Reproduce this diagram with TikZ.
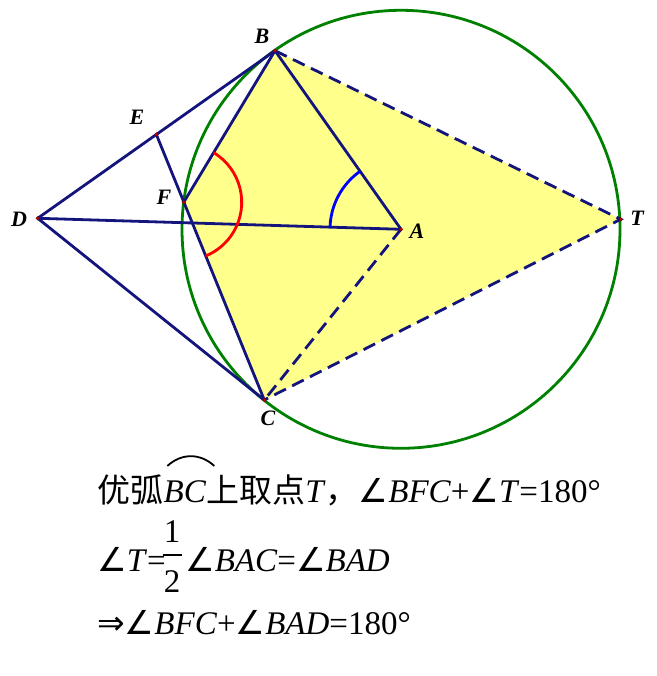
\documentclass[tikz,border=0pt]{standalone}
\usepackage{fontspec}
\setmainfont{Liberation Serif}
\newfontfamily\cjk{Noto Sans CJK SC}
\newfontfamily\djv{DejaVu Sans}
\usetikzlibrary{calc}
\definecolor{navy}{RGB}{20,20,125}
\definecolor{cgreen}{RGB}{0,128,0}
\definecolor{fillyel}{RGB}{255,255,140}
\newcommand{\myang}{{\djv ∠}}
\begin{document}
\begin{tikzpicture}[x=1pt,y=1pt,
  seg/.style={draw=navy,line width=2.8pt},
  dseg/.style={seg,dash pattern=on 13pt off 7pt},
  ptdot/.style={circle,fill=red!85!black,draw=red!45!black,line width=0.4pt,inner sep=0pt,minimum size=3.5pt},
  lbl/.style={font=\fontsize{22}{26}\selectfont\bfseries\itshape,inner sep=0pt},
  txt/.style={font=\fontsize{33}{39}\selectfont,inner sep=0pt,anchor=base west}]
\useasboundingbox (0,0) rectangle (656,676);
\coordinate (A) at (401,446.7);
\coordinate (B) at (275,625.3);
\coordinate (C) at (264.3,276);
\coordinate (D) at (37.7,457.7);
\coordinate (E) at ($(D)!0.5!(B)$);
\coordinate (F) at (183.7,473.7);
\coordinate (T) at (620.7,456.7);
% fill
\fill[fillyel] (F) -- (B) -- (T) -- (C) -- cycle;
% circle
\draw[cgreen,line width=2.8pt] (A) circle (219);
% solid segments
\draw[seg] (D) -- (B);
\draw[seg] (D) -- (C);
\draw[seg] (D) -- (A);
\draw[seg] (B) -- (F);
\draw[seg] (E) -- (C);
\draw[seg] (B) -- (A);
% dashed segments
\draw[dseg] (A) -- (C);
\draw[dseg] (B) -- (T) -- (C);
% angle arcs
\draw[red,line width=2.8pt] ([shift={(58.9:58)}]F) arc (58.9:-67.8:58);
\draw[blue,line width=2.8pt] ([shift={(125.2:71)}]A) arc (125.2:178.3:71);
% points
\foreach \p in {A,B,C,D,E,F,T} \node[ptdot] (dot\p) at (\p) {};
% labels
\node[lbl] (lB) at (262,640) {B};
\node[lbl] (lE) at (137,559) {E};
\node[lbl] (lF) at (164,479) {F};
\node[lbl] (lD) at (19,457) {D};
\node[lbl] (lA) at (417,445) {A};
\node[lbl] (lC) at (268,258) {C};
\node[lbl] (lT) at (637,458) {T};
% text line 1
\node[txt] (l1a) at (97,173) {\cjk 优弧};
\node[txt] (l1b) at (l1a.base east) {\textit{BC}};
\draw[line width=1.8pt] ($(l1b.north west)+(4,15)$) .. controls +(14,13) and +(-14,13) .. ($(l1b.north east)+(8,15)$);
\node[txt] (l1c) at (l1b.base east) {{\cjk 上取点}\textit{T}{\cjk ，}\myang\textit{BFC}+\myang\textit{T}=180°};
% text line 2
\node[txt] (l2a) at (97,104) {\myang\textit{T}=};
\node[txt,anchor=base] (one) at (172,133) {1};
\node[txt,anchor=base] (two) at (172,83) {2};
\draw[line width=2.8pt] ($(two.north)+(-9.5,16)$) -- ($(two.north)+(9.5,16)$);
\node[txt] (l2b) at (185,104) {\myang\textit{BAC}=\myang\textit{BAD}};
% text line 3
\node[txt] (l3) at (97,41) {{\djv ⇒}\myang\textit{BFC}+\myang\textit{BAD}=180°};
\end{tikzpicture}
\end{document}
